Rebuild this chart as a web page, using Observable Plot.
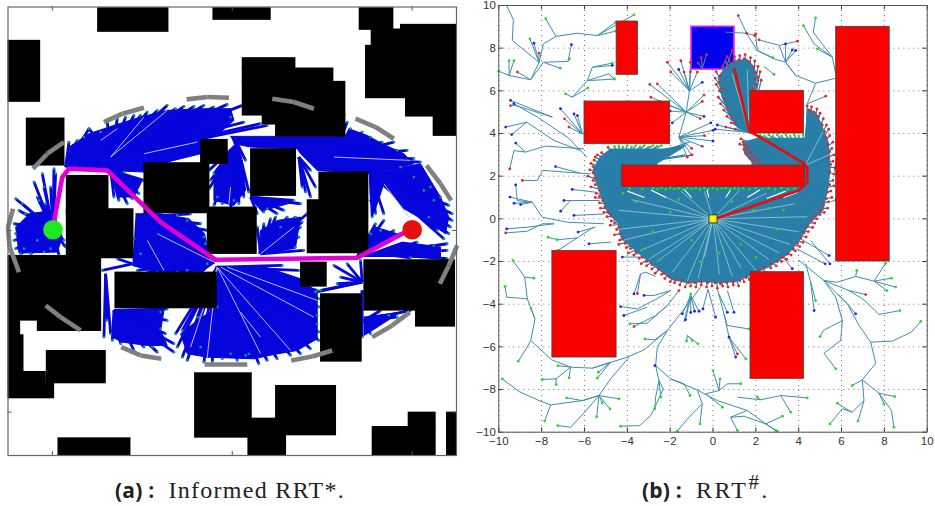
<!DOCTYPE html>
<html><head><meta charset="utf-8">
<script src="https://cdn.jsdelivr.net/npm/d3@7"></script>
<script src="https://cdn.jsdelivr.net/npm/@observablehq/plot@0.6"></script>
<style>
html,body{margin:0;padding:0;background:#fff}
#page{position:relative;width:935px;height:506px;overflow:hidden}
#a,#b{position:absolute;top:0}
#a{left:0}#b{left:470px}
.cap{position:absolute;top:476px;white-space:nowrap;color:#222;font:400 24px/28px "Liberation Serif",serif;letter-spacing:1.3px}
.cap b{font:700 21px/28px "Open Sans","DejaVu Sans",sans-serif;letter-spacing:.2px;margin-right:14px}
.cap sup{font-size:21px;line-height:0}
</style></head><body>
<div id="page"><div id="a"></div><div id="b"></div>
<div class="cap" style="left:115px"><b>(a) :</b>Informed RRT*.</div>
<div class="cap" style="left:642px;letter-spacing:2.4px"><b>(b) :</b>RRT<sup>#</sup>.</div>
</div>
<script>
/* ---------- (a) Informed RRT*: readings in map units ---------- */
const obstaclesA=[[291,22,505,96],[637,22,812,60],[1076,22,1180,90],[1200,72,1368,90],[1112,86,1368,137],[1095,135,1368,295],[1215,291,1368,350],[1298,346,1368,408],
[22,120,120,306],[725,172,886,207],[725,203,1000,247],[725,243,1036,347],[785,343,1036,374],[825,370,1036,410],[77,353,193,497],
[600,417,683,492],[430,487,628,640],[620,620,770,762],[750,445,888,588],[955,515,1105,602],[920,598,1105,760],[197,525,325,642],[197,625,400,775],
[22,765,303,962],[110,958,303,993],[22,958,60,1007],[22,1003,70,1117],[22,1113,137,1152],[22,1148,162,1195],[137,1050,317,1150],
[343,815,650,925],[900,785,980,860],[960,880,1085,1085],[1090,778,1365,932],[1245,928,1365,980],[582,1117,755,1313],[825,1155,1008,1306],[742,1253,858,1365],[172,1312,391,1365],[1115,1278,1307,1365],[1223,1235,1307,1280],[1338,1235,1368,1365]];
const treeAreasA=[
[[195,500],[205,440],[265,400],[340,375],[420,350],[500,330],[600,325],[690,325],[700,360],[660,395],[600,420],[600,460],[480,490],[430,515],[320,510]],
[[690,408],[1036,408],[1045,385],[1100,405],[1145,430],[1210,460],[1240,490],[1200,500],[1110,520],[950,510],[900,460],[890,445],[750,440],[700,430]],
[[1105,520],[1260,490],[1320,590],[1345,650],[1335,700],[1290,670],[1210,625],[1150,550],[1120,640],[1108,600]],
[[645,800],[780,795],[900,835],[950,875],[950,1015],[890,1050],[820,1062],[760,1075],[620,1070],[560,1060],[540,1000],[590,960],[650,920]],
[[405,640],[480,640],[565,655],[612,700],[630,790],[610,812],[520,815],[440,808],[395,795]],
[[340,932],[490,930],[480,990],[500,1035],[440,1035],[365,1025],[335,1010]],
[[1080,770],[1205,725],[1320,740],[1320,770],[1220,770]],
[[1090,950],[1200,935],[1115,990],[1090,1005]],
[[85,640],[157,630],[185,710],[170,755],[55,758],[45,680]],
[[775,760],[780,690],[830,660],[900,650],[885,740]],
[[700,440],[640,520],[640,600],[700,615],[735,570],[725,480]],
[[750,590],[880,605],[790,630]],
[[1075,770],[1125,680],[1190,700]],
[[330,510],[425,540],[400,590],[350,590]]
];
const fansA=[
[[157,688],[[100,545],[125,520],[160,505],[165,520],[150,560],[110,590],[45,595],[55,630],[40,670],[45,700],[45,745],[60,760],[90,760],[130,755],[110,720],[175,765],[195,740],[190,720],[75,640],[40,720],[70,745],[150,745],[65,610],[115,600],[130,560],[135,610]]],
[[195,500],[[205,425],[230,420],[265,385],[250,410]]],
[[330,470],[[265,385],[300,395],[320,365],[350,355],[375,350],[400,345],[420,345],[440,335],[470,330],[500,315],[525,325],[550,318],[580,318],[610,315],[640,320],[680,312],[725,315],[690,350],[730,365],[780,370],[800,375]]],
[[330,510],[[340,590],[380,610],[415,580],[430,540],[370,515],[355,600],[395,595]]],
[[710,430],[[625,510],[625,565],[640,615],[690,625],[715,610],[745,575],[735,480],[640,520],[665,610],[630,540],[650,590],[700,600],[730,590]]],
[[895,470],[[905,560],[930,590],[945,560],[930,510],[915,575]]],
[[750,590],[[770,640],[830,640],[900,610],[880,600],[800,625],[850,630],[790,635]]],
[[780,760],[[770,680],[810,655],[860,650],[920,640],[900,680],[885,740],[910,750],[840,680],[790,670],[825,650],[885,650],[905,665],[895,710]]],
[[410,650],[[480,630],[530,645],[570,640],[600,670],[620,690],[610,710],[615,730],[560,660]]],
[[640,785],[[410,810],[440,815],[470,815],[505,820],[530,815],[560,810],[590,820],[620,790],[420,760],[400,715]]],
[[395,790],[[350,775],[305,810]]],
[[340,930],[[480,935],[500,925],[500,960],[520,1055],[455,1040],[360,1030],[335,1020],[400,1050],[470,1055],[430,1040],[480,985],[495,1000],[520,1030]]],
[[315,820],[[310,1010],[330,1000],[320,960]]],
[[650,800],[[950,870],[955,895],[955,920],[950,945],[950,970],[955,995],[955,1020],[930,1045],[900,1060],[870,1065],[830,1075],[800,1080],[775,1090],[745,1060],[735,1065],[710,1080],[690,1060],[665,1075],[635,1085],[610,1085],[600,1040],[560,1080],[545,1070],[530,1040],[525,1000],[545,990],[590,950],[650,920],[930,850],[895,810],[845,795]]],
[[1085,845],[[1000,795],[1040,790],[1080,780],[1020,830],[945,875],[960,870],[1010,850]]],
[[1085,870],[[1085,1010],[1075,950]]],
[[1090,960],[[1230,930],[1140,930],[1110,1000],[1190,950],[1165,945]]],
[[1070,770],[[1125,670],[1150,660],[1180,690],[1200,700],[1110,700],[1140,690]]],
[[1110,520],[[1290,560],[1320,590],[1345,615],[1355,640],[1355,660],[1350,680],[1345,700],[1330,715],[1310,690],[1285,650],[1270,570],[1240,530],[1300,600],[1115,650],[1125,640],[1150,640]]],
[[1000,470],[[1040,365],[1050,385],[1085,395],[1110,410],[1145,425],[1180,425],[1220,450],[1190,450],[1260,485],[1240,475],[1200,500]]],
[[1140,760],[[1340,730],[1340,775],[1340,750],[1250,725],[1300,735],[1230,772]]]
];
const streaksA=[[[650,800],[780,1060]],[[720,935],[780,1010]],[[1150,550],[1225,650]],[[430,460],[590,425]],[[440,720],[490,810]],[[680,800],[950,900]],[[690,560],[685,610]],[[350,385],[300,420]],[[650,800],[620,1070]],[[650,800],[570,1040]],[[650,800],[870,1050]],[[660,800],[940,950]],[[330,470],[500,330]],[[1000,470],[1230,480]],[[330,470],[430,350]],[[780,760],[880,680]],[[640,785],[470,700]]];
const boundaryA=[[[37,625],[22,680],[27,740],[55,815]],[[135,915],[180,950],[240,990]],[[362,1040],[420,1065],[482,1075]],[[612,1092],[740,1092]],[[872,1080],[935,1068],[995,1050]],[[1115,1010],[1175,975],[1228,935]],[[1318,850],[1345,795],[1370,735]],[[1352,600],[1320,550],[1278,495]],[[1180,415],[1125,380],[1065,355]],[[940,325],[880,305],[815,295]],[[685,292],[620,290],[558,297]],[[430,322],[365,340],[310,365]],[[190,425],[140,460],[97,505]]];
const pathA=[[157,680],[185,530],[205,505],[320,510],[480,665],[645,778],[1070,772],[1215,695]];
const startA=[157,688], goalA=[1235,688];
const ticksXA=[155,695,1235], ticksYA=[690,1235];

/* ---------- (b) RRT#: readings in axis units ---------- */
const ticksB=[-10,-8,-6,-4,-2,0,2,4,6,8,10];
const obstaclesB=[[-4.5,6.75,-3.5,9.25],[-6,3.5,-2,5.5],[5.75,-2,8.25,9],[1.75,4,4.25,6],[-4.25,1.5,4.3,2.5],[-7.5,-6.5,-4.5,-1.5],[1.75,-7.5,4.25,-2.5]];
const goalB=[-1,7,1,9];
const pathB=[[0.1,0],[4,1.33],[4.4,1.7],[4.4,2.4],[4.25,2.6],[1.9,4],[1.7,4.1],[1,7]];
const blobB=[[-4.8,3.3],[-5.3,2.9],[-5.62,2.3],[-5.47,1.7],[-5.22,1],[-4.92,0.24],[-4.46,-0.2],[-4.3,-0.93],[-3.87,-1.3],[-3.26,-1.82],[-2.6,-2.35],[-1.94,-2.87],[-1.2,-3.02],[-0.42,-2.97],[0.36,-3.02],[1.12,-2.96],[1.85,-2.6],[2.6,-2.28],[3.5,-1.68],[4.1,-0.96],[4.55,-0.2],[5.17,0.42],[5.26,0.88],[5.4,1.5],[5.5,2.4],[5.4,3.6],[5.05,4.5],[4.82,5],[4.4,5.2],[4.28,3.8],[2.07,3.8],[1.38,3.6],[1.45,3.05],[1.8,2.65],[1.76,2.2],[-2.6,2.2],[-2.6,2.58],[-1.45,3.28],[-1.2,3.5],[-2.3,3.3]];
const topBlobB=[[1.68,4.05],[1.14,4.25],[0.75,4.85],[0.4,5.7],[0.22,6.65],[0.58,7.15],[1,7.42],[1.6,7.5],[1.95,7.12],[2.02,6.56],[1.8,6.05]];
const rimMain=[[-5.5,2.9],[-5.7,2.6],[-5.75,2.3],[-5.85,2],[-5.6,1.8],[-5.7,1.5],[-5.45,1.2],[-5.5,1],[-5.3,0.75],[-5.25,0.5],[-5.1,0.3],[-4.95,0.1],[-4.75,-0.1],[-4.8,-0.3],[-4.5,-0.5],[-4.6,-0.75],[-4.35,-1],[-4.4,-1.2],[-4.05,-1.35],[-3.95,-1.6],[-3.7,-1.7],[-3.45,-1.85],[-3.35,-2.1],[-3.1,-2.2],[-2.85,-2.35],[-2.7,-2.55],[-2.4,-2.6],[-2.25,-2.8],[-2,-2.95],[-1.8,-3],[-1.55,-3.1],[-1.3,-3.2],[-1.05,-3.15],[-0.8,-3.2],[-0.55,-3.1],[-0.3,-3.2],[-0.05,-3.15],[0.2,-3.25],[0.45,-3.15],[0.7,-3.2],[0.95,-3.1],[1.2,-3.15],[1.45,-2.95],[1.7,-2.85],[1.95,-2.7],[2.2,-2.6],[2.45,-2.5],[2.7,-2.3],[2.95,-2.2],[3.2,-2],[3.45,-1.9],[3.65,-1.7],[3.85,-1.5],[4.05,-1.3],[4.2,-1.1],[4.35,-0.85],[4.45,-0.6],[4.65,-0.4],[4.75,-0.2],[4.85,0],[5,0.2],[5.2,0.3],[5.35,0.5],[5.4,0.8],[5.55,1],[5.5,1.3],[5.65,1.55],[5.6,1.8]];
const rimInner=[[-5.55,2.75],[-5.6,2.45],[-5.6,2.15],[-5.5,1.9],[-5.5,1.6],[-5.3,1.35],[-5.3,1.05],[-5.15,0.85],[-5.05,0.55],[-4.9,0.35],[-4.75,0.15],[-4.6,-0.2],[-4.4,-0.4],[-4.35,-0.7],[-4.2,-0.95],[-4.1,-1.15],[-3.85,-1.4],[-3.6,-1.55],[-3.3,-1.8],[-3.1,-2],[-2.85,-2.15],[-2.55,-2.35],[-2.3,-2.55],[-2.05,-2.7],[-1.75,-2.85],[-1.45,-2.9],[-1.15,-3],[-0.85,-3],[-0.55,-2.95],[-0.25,-3],[0.1,-3],[0.35,-3.05],[0.65,-3],[0.95,-2.95],[1.25,-2.9],[1.55,-2.75],[1.85,-2.55],[2.15,-2.4],[2.4,-2.3],[2.7,-2.1],[3,-2],[3.25,-1.8],[3.5,-1.65],[3.75,-1.4],[3.95,-1.15],[4.1,-0.9],[4.25,-0.65],[4.4,-0.35],[4.6,-0.1],[4.75,0.15],[5,0.4],[5.15,0.65],[5.3,0.95],[5.35,1.25],[5.45,1.6]];
const rimRight=[[5.65,2.1],[5.7,2.4],[5.6,2.7],[5.65,3],[5.55,3.3],[5.6,3.6],[5.45,3.9],[5.4,4.2],[5.3,4.4],[5.15,4.7],[5,4.95],[4.85,5.15],[4.6,5.25],[4.4,5.3],[5.45,2.2],[5.5,2.55],[5.4,2.85],[5.45,3.15],[5.35,3.5],[5.3,3.8],[5.2,4.1],[5.1,4.4],[4.9,4.8],[4.7,5],[4.5,5.1],[1.3,3.75],[1.25,3.5],[1.5,3.45],[1.45,3.25],[1.55,3.05],[1.7,2.85],[1.9,2.7],[2.2,2.65],[1.4,3.6],[1.6,3.3],[1.75,3.1],[1.85,2.95],[2.05,2.85]];
const rimTop=[[0.15,6.9],[0.1,6.6],[0.15,6.3],[0.3,6],[0.25,5.7],[0.35,5.4],[0.5,5.1],[0.65,4.8],[0.6,4.3],[0.85,4.5],[1.05,4.2],[0.45,7.15],[0.6,7.35],[0.75,7.5],[1,7.6],[1.25,7.65],[1.5,7.7],[1.75,7.55],[1.95,7.4],[2.1,7.15],[2.2,6.9],[2.1,6.65],[2.25,6.5],[2.05,6.3],[1.9,6.1],[0.35,6.7],[0.3,6.4],[0.45,6.1],[0.55,5.6],[0.7,5.2],[0.85,4.8],[1,4.5],[0.7,7.15],[0.95,7.35],[1.2,7.45],[1.45,7.5],[1.7,7.35],[1.9,7.1],[2,6.85],[1.95,6.55]];
const streaksB=[[[0,0],[-4.4,0.4]],[[0,0],[-3.4,-1.5]],[[0,0],[-1.2,-2.9]],[[0,0],[-0.4,-1.8]],[[0,0],[1.3,-2.3]],[[0,0],[3.6,-1.2]],[[0,0],[-2.6,1.2]],[[0,0],[2.5,1.2]],[[0,0],[-4.2,-1]],[[0,0],[0.9,-2.7]],[[0,0],[4.4,0.1]],[[0,0],[-1.5,1.3]],[[0,0],[-2.6,-2]],[[0,0],[2.6,-1.9]],[[0,0],[-3.8,0.9]],[[0,0],[-4.5,-0.5]],[[0,0],[-3,-1.9]],[[0,0],[-1.9,-2.5]],[[0,0],[-0.7,-2.8]],[[0,0],[0.3,-2.6]],[[0,0],[2,-2.4]],[[0,0],[3.1,-1.6]],[[0,0],[4,-0.6]],[[0,0],[3.8,0.7]],[[0,0],[1.2,1.3]],[[0,0],[-0.4,1.3]],[[4.3,2.5],[5.2,4.2]],[[4.3,2.5],[5.4,3]],[[1.68,4.05],[0.9,6.8]],[[1.68,4.05],[1.6,7]]];
const flecksB=[[[-2.2,1],[-2.9,1.35]],[[-1,1],[-1.35,1.38]],[[0.6,1],[0.83,1.38]],[[1.6,1],[2.2,1.36]],[[2.5,0.95],[3.4,1.3]],[[-0.2,1],[-0.28,1.38]],[[-3.2,1],[-4,1.3]],[[3.3,1],[3.95,1.25]]];
const greenBar=[[-3.9,1.42],[-3.3,1.4],[-2.8,1.45],[-2.6,1.4],[-2.4,1.45],[-2.2,1.38],[-2,1.45],[-1.8,1.4],[-1.6,1.44],[-1.4,1.38],[-1.2,1.45],[-1,1.4],[-0.8,1.45],[-0.6,1.38],[-0.4,1.44],[-0.2,1.4],[0,1.45],[0.2,1.38],[0.4,1.42],[0.6,1.45],[0.8,1.38],[1,1.44],[1.2,1.4],[1.4,1.45],[1.7,1.38],[2,1.43],[2.3,1.4],[2.6,1.44],[2.9,1.38],[3.2,1.44],[3.5,1.38],[3.8,1.42]];
const greenUnder=[[-4.6,3.4],[-4.4,3.42],[-4.2,3.36],[-4,3.44],[-3.8,3.38],[-3.6,3.44],[-3.4,3.38],[-3.2,3.44],[-3,3.38],[-2.8,3.44],[-2.6,3.4],[-2.4,3.44]];
const greenAbove=[[2.2,3.92],[2.4,3.88],[2.6,3.94],[2.8,3.88],[3,3.94],[3.2,3.88],[3.4,3.94],[3.6,3.88],[3.8,3.94],[4,3.88],[4.2,3.94]];
const greenInside=[[-3.6,0.8],[-1.6,0.9],[0.9,0.8],[2.6,0.5],[-2.8,-0.6],[-0.6,-2],[1.3,-1.2],[3,-0.5],[-4.2,1.2],[-3.2,-1.4],[-1,-1],[0.3,-1.6],[2,-1.8],[3.3,0.4],[-2,0.3],[1.9,0.4]];
const wedgeEnds=[[-2,3.3],[-1.6,3.4],[-1.3,3],[-0.9,3],[-1.1,3.6],[-5.2,3.1],[-5.4,3],[-4.9,3.35]];
const wedgeRoot=[-4.3,2.5], rightRoot=[4.3,2.5], topRoot=[1.68,4.05];
/* tree branches; the last point of each carries the coloured tip */
const greenTips=[
[[-9.63,10],[-9.32,9.33],[-9.37,8.36],[-8.7,7.81],[-8.12,7.34],[-8.51,6.52],[-9.52,6.72],[-9.52,7.42]],[[-9.52,6.72],[-10,6.92]],[[-9.52,6.72],[-9.29,7.42]],[[-8.12,7.34],[-8.55,8.44]],
[[-8.51,6.52],[-7.92,7.34],[-7.13,7.06]],[[-7.92,7.34],[-6.77,7.38],[-6.7,7.5]],[[-8.12,7.34],[-7.92,8.2],[-7.33,8.55],[-7.81,9.38]],[[-7.33,8.55],[-6.35,8.7],[-5.4,8.59],[-4.54,8.8]],[[-5.4,8.59],[-3.69,9.56]],[[-5.4,8.59],[-4.54,9.22]],
[[-6.57,5.7],[-5.87,6.48],[-4.86,6.8],[-4.62,6.56]],[[-5.87,6.48],[-4.6,6.55]],[[-6.57,5.7],[-6.88,5.86]],[[-6.57,5.7],[-5.84,6.14]],[[-5.87,6.48],[-5.63,7.11],[-4.7,7.3]],
[[-7.27,-0.98],[-7.7,-0.86]],[[-6.33,-0.89],[-7.24,-1.48]],
[[-5.6,-0.4],[-6.33,-0.89],[-7.27,-0.98]],
[[-0.58,-3.2],[-1.04,-3.83],[-2.13,-5.23],[-3.22,-6.14],[-4,-6.48],[-5.63,-7],[-6.65,-6.95],[-7.53,-6.61],[-8.51,-5.7],[-8.31,-4.69],[-8.67,-3.75],[-8.79,-2.73],[-9.34,-1.95]],[[-8.79,-2.73],[-8.36,-2.78]],[[-8.67,-3.75],[-9.63,-3.67],[-9.71,-3.17]],[[-8.31,-4.69],[-8.5,-4.2]],[[-8.51,-5.7],[-8.75,-6.14],[-9.09,-6.67]],
[[-6.65,-6.95],[-7.33,-7.5],[-7.97,-7.53]],[[-7.33,-7.5],[-7.32,-7.77]],[[-6.65,-6.95],[-6.72,-7.45]],[[-6.65,-6.95],[-7.24,-6.88]],[[-5.63,-7],[-4.78,-6.72],[-5.35,-7.19]],[[-4.78,-6.72],[-5.4,-7.47]],
[[-3.92,-6.48],[-4.78,-7.5],[-5.32,-8.28],[-4.39,-8.44]],[[-5.32,-8.28],[-4.81,-8.91]],[[-5.32,-8.28],[-5.17,-8.63]],[[-5.32,-8.28],[-5.43,-9.27]],[[-5.32,-8.28],[-5.99,-9.06],[-6.65,-9.77],[-7.24,-9.69]],[[-5.32,-8.28],[-6.1,-8.52],[-6.83,-8.39]],
[[-5.32,-8.28],[-6.1,-8.52],[-7.58,-8.72],[-8.12,-8.52],[-9.06,-8.09],[-9.84,-7.5]],[[-7.58,-8.72],[-7.86,-9.48]],
[[-2.13,-5.23],[-2.6,-6.02],[-2.68,-6.88],[-1.98,-7.5],[-0.73,-8.02],[0.2,-8.52],[1.6,-8.98],[2.46,-9.61],[3,-9.95]],[[-2.68,-6.88],[-2.52,-7.58],[-2.32,-7.97],[-2.75,-8.91],[-2.91,-9.22],[-3.42,-9.69],[-4.31,-9.72]],[[-2.52,-7.58],[-2.68,-8.36],[-2.72,-8.9]],[[-2.52,-7.58],[-2.44,-8.36]],
[[-1.98,-7.5],[-1.35,-7.73],[-1.07,-8.28]],[[-0.73,-8.02],[-0.5,-8.67],[-1.12,-9.3],[-1.67,-9.95]],[[-0.5,-8.67],[-0.61,-9.61]],[[-0.34,-8.2],[0.44,-8.83]],[[-0.34,-8.2],[0.28,-8.05],[0,-7.11]],[[0.28,-8.05],[0.67,-7.73],[1.29,-7.73]],[[0.28,-8.05],[0.33,-7.5]],
[[1.14,-8.36],[2.23,-8.48],[3.16,-8.28],[3.63,-9.06]],[[3.16,-8.28],[4.4,-8.39]],[[2.23,-8.48],[2.07,-8.36]],[[1.6,-8.98],[0.82,-9.3],[1.14,-9.92]],[[0.82,-9.3],[1.45,-9.25],[2.46,-9.61],[3.24,-9.25]],[[2.46,-9.61],[2.93,-9.92]],
[[-1.2,-5.47],[-1.23,-5.73]],[[-1.2,-5.47],[-0.97,-5.7]],[[-1.2,-5.47],[-0.7,-5.86]],[[-3.07,-4.89],[-3.88,-4.92]],[[-2.13,-5.23],[-2.72,-5.67],[-3.18,-5.63]],[[-1.35,-4.84],[-1.04,-3.52]],
[[0.51,-4.45],[0.67,-5],[1.68,-5.16]],[[0.75,-5.55],[1.53,-6.56]],
[[4.02,-1.95],[5.18,-2.89],[5.81,-3.52],[6.27,-3.98],[6.82,-5],[7.36,-5.78],[7.6,-6.77],[6.97,-7.55],[6.5,-7.81]],[[6.97,-7.55],[7.75,-8.17],[8.33,-8.98],[8.45,-9.77]],[[7.75,-8.17],[8.48,-8.33]],[[7.75,-8.17],[7.98,-8.67]],[[6.97,-7.55],[7.05,-8.52],[6.5,-9.06],[6.09,-8.83],[5.81,-8.64]],[[7.05,-8.52],[6.77,-9.48]],[[6.5,-9.06],[6.04,-8.9],[5.46,-9.61]],
[[7.36,-5.78],[8.37,-5.73],[9.26,-5.31],[9.7,-4.81]],[[5.18,-2.89],[5.73,-3.67],[6.04,-4.77],[5.96,-5.7],[5.18,-6.3],[5.73,-7.03]],[[6.04,-4.77],[5.15,-5.23],[5,-5.52]],[[6.35,-3.36],[7.05,-3.8],[7.75,-4.48],[8.73,-4.3]],
[[5.81,-2.97],[6.66,-2.7],[7.52,-2.92],[8.06,-2.08]],[[7.52,-2.92],[8.33,-2.78]],[[7.52,-2.92],[8.53,-3.2]],[[7.52,-2.92],[8.11,-3.36]],[[6.66,-2.7],[6.71,-2.42]],[[4.56,-2.97],[4.79,-3.83]],
[[3.86,6.72],[3.39,7.34],[2.85,7.5],[2.07,7.89],[2.8,7.55]],[[2.38,7.14],[2.85,6.77]],[[5.76,6.64],[5.57,7.58],[4.72,8.2],[4.22,9.06]],[[5.57,7.58],[5.21,8.05],[4.68,8.75],[4.79,9.42]],[[5.57,7.58],[4.87,7.97]]
];
const blueTips=[
[[-8.12,7.34],[-8.36,8.23]],[[-6.77,7.38],[-6.61,8.16]],[[-5.63,7.11],[-4.7,7.19]],
[[-6.1,3.98],[-7.12,5.16]],[[-6.1,3.98],[-6.49,4.92]],[[-6.1,3.98],[-6.33,4.84]],
[[-7.5,4.77],[-9.45,5.55]],[[-5.87,2.89],[-6.8,3.83],[-8.2,4.77],[-9.3,5.4]],[[-6.18,3.2],[-7.42,3.67],[-8.7,4.53],[-9.68,4.3]],[[-8.7,4.53],[-9.4,3.95]],[[-6.02,3.28],[-7.81,3.41],[-8.75,3.13],[-9.21,3.55]],
[[-5.71,2.11],[-6.18,2.14],[-7.35,2.45]],[[-5.09,-0.23],[-6.8,-0.16],[-7.97,0.08],[-8.44,0.78],[-9.14,0.86],[-9.21,1.59]],[[-8.44,0.78],[-9.48,1.02]],[[-8.44,0.78],[-9.29,0.73]],[[-8.44,0.78],[-8.98,0.67]],
[[-7.42,-0.23],[-8.67,-0.39],[-9.63,-0.47]],[[-5.48,1.25],[-6.57,1.38]],[[-5.3,0.86],[-6.96,0.86]],[[-6.65,0.86],[-7.11,0.36]],[[-5.09,0.23],[-6.49,0.16]],[[-5.48,-0.39],[-6.3,-0.62]],[[-4.76,-1.09],[-5.79,-1.17]],[[-3.22,-1.79],[-4.23,-1.79]],
[[-1.98,-3.36],[-2.68,-3.78],[-3.53,-4.22],[-4.31,-4.11]],[[-3.07,-4.14],[-4.16,-4.53]],[[-2.68,-2.7],[-3.14,-2.5],[-3.38,-2.58],[-3.69,-3.52]],[[-1.98,-3.36],[-2.75,-3.59],[-3.22,-3.59]],[[-2.68,-6.88],[-2.71,-6.88]],
[[-1.04,-3.59],[-1.28,-4.73]],[[-1.04,-3.59],[-1.43,-4.45]],[[-1.04,-3.59],[-1.04,-4.39]],[[-1.04,-3.59],[-0.86,-4.33]],[[-1.04,-3.59],[-0.65,-4.33]],[[-0.23,-3.3],[-0.47,-4.22]],[[-0.23,-3.3],[0.12,-4.61]],
[[0.75,-5.55],[1.06,-6.48]],[[0.67,-3.36],[0.98,-4.38]],[[0.28,-3.52],[0.67,-4.38]],[[0.2,-3.28],[0.51,-4.45],[0.75,-5.55]],
[[4.09,-0.94],[5.42,-1.72]],[[4.56,-1.02],[5.46,-2.11]],[[3.92,-1.41],[5.23,-2.11]],[[3.32,-1.88],[3.7,-2.34]],[[4.33,-2.11],[4.56,-2.97],[4.72,-4.3]],[[5.81,-3.52],[6.27,-3.98],[6.66,-4.45]],
[[3.39,7.34],[3.39,8.2]],[[3.39,7.34],[3.7,7.92]],[[3.39,7.34],[3.86,7.89]],[[-1.1,6],[-0.5,6.4]],[[-1.1,6],[-1.6,7]],[[-1.25,5],[-0.42,4.8]],[[-1.25,5],[-2,5.05]],[[-1.25,5],[-1.9,4.5]],
[[-1.59,3.83],[-0.1,4.5]],[[-1.59,3.83],[0,4.15]],[[-1.59,3.83],[0,3.65]],[[1.68,4.05],[0.2,4.4]],[[1.68,4.05],[0.1,4.2]],[[5.65,2.2],[5.8,2.9]],[[5.5,0.8],[5.75,0.9]]
];
const redTips=[
[[-8.51,6.52],[-9.13,6.88]],[[-8.12,7.34],[-8.12,7.77]],[[-6.1,3.98],[-6.93,4.69]],[[-6.1,3.98],[-6.72,4.3]],[[-7.5,4.77],[-9.2,5.31],[-9.45,5.31]],[[-8.75,3.13],[-9.29,3.2],[-9.49,2.34]],[[-6.18,2.14],[-7.94,2.27],[-8.2,1.8],[-8.9,1.8]],
[[-7.42,-0.23],[-7.97,-0.23],[-8.67,-0.58],[-9.68,-0.66]],[[-3.07,-4.89],[-2.13,-4.06],[-1.59,-3.36]],[[-2.13,-4.06],[-2.68,-4.53],[-3.69,-5.05]],[[-3.38,-2.58],[-3.53,-3.5]],[[0.75,-5.55],[1.14,-6.33]],
[[5.81,-2.97],[5.18,-2.89],[6.35,-3.36],[7.13,-3.55]],[[5.73,6.59],[4.79,6.36],[3.86,6.72],[3.39,7.34],[3.09,8.13],[2.15,8.39]],[[3.09,8.13],[3.94,8.33]],[[2.07,7.89],[1.57,8.7],[1.18,9.53]],[[1.57,8.7],[1.95,8.59]],[[2.07,7.89],[1.99,8.67]],
[[4.79,6.36],[4.4,5.39],[5.26,5.75]],
[[-1.1,6],[-2.13,7.34]],[[-1.1,6],[-1.97,6.88]],[[-1.1,6],[-1.5,7.41]],[[-1.1,6],[-1.05,7.34]],[[-1.1,6],[-0.73,6.88]],[[-1.1,6],[-1.35,6.88]],[[-1.25,5],[-0.42,5.8]],[[-1.25,5],[-0.5,5.5]],[[-1.25,5],[-0.6,4.7]],[[-1.25,5],[-2.6,6.33]],[[-1.25,5],[-2.95,6.3]],[[-1.25,5],[-2.9,5.7]],[[-1.25,5],[-2.5,5.5]],[[-1.59,3.83],[-1.25,5],[-1.1,6],[-1.05,6.9]],
[[-1.59,3.83],[-0.4,3.9]],[[-1.59,3.83],[-1,3]],[[-1.59,3.83],[-1.2,2.9]],[[-1.59,3.83],[-1,3.3]],[[-1.59,3.83],[-0.5,3.4]],
[[-0.5,7.05],[-0.55,7.55]],[[-0.5,7.05],[-0.7,7.3]],[[-0.5,7.05],[-0.3,7.7]],[[0.6,7.05],[0.9,7.9]],[[0.4,7.05],[0.65,7.6]],[[0.6,8.75],[1.57,8.7]]
];

/* ---------- helpers that turn the readings into tables ---------- */
const rectRows=r=>r.map(([x1,y1,x2,y2])=>({x1,y1,x2,y2}));
const segs=l=>l.flatMap(p=>d3.pairs(p).map(([a,b])=>({x1:a[0],y1:a[1],x2:b[0],y2:b[1]})));
const fanSegs=(root,ends)=>ends.map(e=>({x1:root[0],y1:root[1],x2:e[0],y2:e[1]}));
const polys=l=>l.flatMap((p,i)=>p.map(q=>({x:q[0],y:q[1],id:i})));
const pts=l=>l.map(q=>({x:q[0],y:q[1]}));
const linkOf=(rows,stroke,strokeWidth,extra={})=>Plot.link(rows,{x1:"x1",y1:"y1",x2:"x2",y2:"y2",stroke,strokeWidth,...extra});
const dotsOf=(l,fill,r)=>Plot.dot(pts(l),{x:"x",y:"y",r,fill});

/* ---------- panel (a) ---------- */
const blue="#0505dc", tip="#0f8a96";
const fansRows=fansA.flatMap(([r,e])=>fanSegs(r,e));
const fansTips=fansA.flatMap(([r,e])=>e);
document.getElementById("a").append(Plot.plot({
  width:465,height:465,marginLeft:7.5,marginRight:9,marginTop:6.5,marginBottom:10,
  x:{domain:[22,1368],axis:null},y:{domain:[1365,20],axis:null},
  marks:[
    Plot.line(polys(treeAreasA),{x:"x",y:"y",z:"id",fill:blue,stroke:blue,strokeWidth:1}),
    linkOf(fansRows,blue,2.8),
    linkOf(segs(streaksA),"#b8b8ff",1),
    dotsOf(fansTips,tip,1.4),
    Plot.rect(rectRows(obstaclesA),{x1:"x1",y1:"y1",x2:"x2",y2:"y2",fill:"#000"}),
    linkOf(segs(boundaryA),"#808080",4.6),
    Plot.line(pts(pathA),{x:"x",y:"y",stroke:"#e000d4",strokeWidth:4.6,strokeLinejoin:"round"}),
    Plot.dot([startA],{x:d=>d[0],y:d=>d[1],r:9.8,fill:"#1ee81e"}),
    Plot.dot([goalA],{x:d=>d[0],y:d=>d[1],r:9.8,fill:"#e60f0f"}),
    Plot.ruleX(ticksXA,{x:d=>d,y1:()=>20,y2:()=>32,stroke:"#555"}),
    Plot.ruleX(ticksXA,{x:d=>d,y1:()=>1353,y2:()=>1365,stroke:"#555"}),
    Plot.ruleY(ticksYA,{y:d=>d,x1:()=>22,x2:()=>34,stroke:"#555"}),
    Plot.ruleY(ticksYA,{y:d=>d,x1:()=>1356,x2:()=>1368,stroke:"#555"}),
    Plot.frame({stroke:"#666",strokeWidth:1.2})
  ]
}));

/* ---------- panel (b) ---------- */
const teal="#2a7fa8";
const tickAttrs={ticks:ticksB,tickSize:0,fontSize:11.5,color:"#333"};
const allBranches=[...greenTips,...blueTips,...redTips];
const tipOf=l=>l.map(p=>p[p.length-1]);
document.getElementById("b").append(Plot.plot({
  width:465,height:450,marginLeft:28.3,marginRight:8.3,marginTop:5,marginBottom:18.3,
  style:{fontFamily:"'Liberation Sans',Arial,sans-serif",background:"transparent",overflow:"visible"},
  x:{domain:[-10,10]},y:{domain:[-10,10]},
  marks:[
    Plot.ruleX(ticksB,{x:d=>d,stroke:"#777",strokeDasharray:"1,4"}),
    Plot.ruleY(ticksB,{y:d=>d,stroke:"#777",strokeDasharray:"1,4"}),
    Plot.rect(rectRows([goalB]),{x1:"x1",y1:"y1",x2:"x2",y2:"y2",fill:"#0000f0",stroke:"#f010f0",strokeWidth:1.6}),
    Plot.line(pts(blobB),{x:"x",y:"y",fill:teal,strokeWidth:0}),
    Plot.line(pts(topBlobB),{x:"x",y:"y",fill:teal,strokeWidth:0}),
    linkOf(fanSegs([0,0],[...rimMain,...rimInner,...greenBar]),teal,1.2),
    linkOf(fanSegs(rightRoot,[...rimRight,...greenAbove]),teal,1.2),
    linkOf(fanSegs(topRoot,rimTop),teal,1.2),
    linkOf(fanSegs(wedgeRoot,[...wedgeEnds,...greenUnder]),teal,1.2),
    linkOf(segs(streaksB),"#bfe6ea",.6),
    linkOf(segs(flecksB),"#fff",1.1),
    linkOf(segs(allBranches),"#3d8fb0",1),
    dotsOf([...greenBar,...greenUnder,...greenAbove,...greenInside],"#22dd22",1.3),
    dotsOf(tipOf(greenTips),"#22dd22",1.4),
    dotsOf(tipOf(blueTips),"#2222ee",1.4),
    dotsOf(tipOf(redTips),"#ee2222",1.4),
    dotsOf([...rimMain,...rimInner,...rimRight,...rimTop,...wedgeEnds.slice(-3)],"#ee2222",1.4),
    Plot.rect(rectRows(obstaclesB),{x1:"x1",y1:"y1",x2:"x2",y2:"y2",fill:"#fa0000",stroke:"#444",strokeWidth:.8}),
    Plot.line(pts(pathB),{x:"x",y:"y",stroke:"#e01010",strokeWidth:2.8,strokeLinejoin:"round"}),
    Plot.dot([[0,0]],{x:d=>d[0],y:d=>d[1],symbol:"square",r:4.6,fill:"#f5f500",stroke:"#234",strokeWidth:1}),
    Plot.axisX({...tickAttrs,anchor:"bottom",tickPadding:5,label:null}),
    Plot.axisY({...tickAttrs,anchor:"left",tickPadding:3,label:null}),
    Plot.ruleX(ticksB,{x:d=>d,y1:()=>-10,y2:()=>-9.8,stroke:"#333"}),
    Plot.ruleX(ticksB,{x:d=>d,y1:()=>9.8,y2:()=>10,stroke:"#333"}),
    Plot.ruleY(ticksB,{y:d=>d,x1:()=>-10,x2:()=>-9.8,stroke:"#333"}),
    Plot.ruleY(ticksB,{y:d=>d,x1:()=>9.8,x2:()=>10,stroke:"#333"}),
    Plot.frame({stroke:"#555",strokeWidth:1})
  ]
}));
</script></body></html>
